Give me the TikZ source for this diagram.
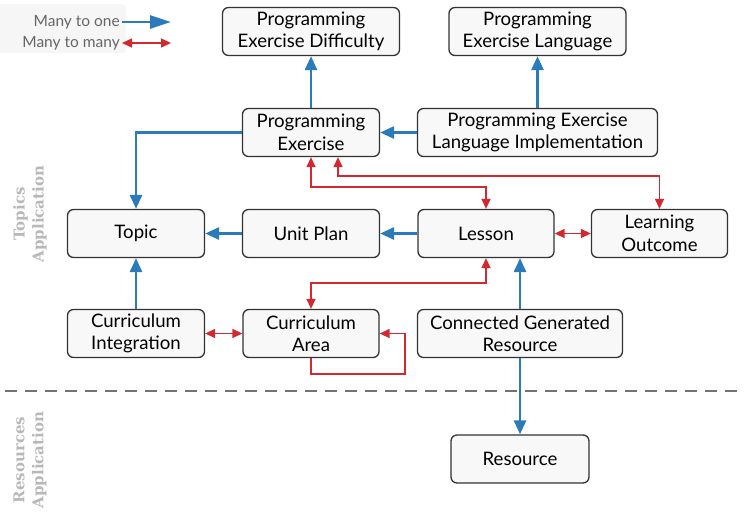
\documentclass[tikz,border=0pt]{standalone}
\usepackage{fontspec}
\setmainfont{Lato}
\newfontfamily\appfont{DejaVu Serif}
\usepackage{tikz}
\usetikzlibrary{arrows.meta}
\definecolor{onecol}{HTML}{2B7BBA}
\definecolor{manycol}{HTML}{D3282F}
\definecolor{boxfill}{HTML}{F8F8F8}
\definecolor{boxline}{HTML}{333333}
\definecolor{legendbg}{HTML}{F6F6F6}
\tikzstyle{model}=[draw=boxline,fill=boxfill,rounded corners=6pt,line width=1.3pt,minimum height=48pt,align=center,inner sep=2pt,font=\fontsize{18.6}{22.5}\selectfont]
\tikzstyle{one} = [draw=onecol,line width=2.8pt,-{Triangle[length=14pt,width=12pt]}]
\tikzstyle{many} = [draw=manycol,line width=1.4pt,{Triangle[length=10pt,width=9pt]}-{Triangle[length=10pt,width=9pt]}]
\tikzstyle{legend} = [anchor=east,inner sep=2pt,text=black!60,font=\fontsize{15.5}{18}\selectfont]
\tikzstyle{app} = [rotate=90,align=center,text=black!28,font=\appfont\bfseries\fontsize{15}{19}\selectfont]

\begin{document}
\begin{tikzpicture}[x=1pt,y=-1pt]
    \useasboundingbox (0,0) rectangle (746,528);
    	% legend
    	\fill[legendbg,rounded corners=4pt] (-4,4) rectangle (126,53);
    	\node[legend] (onelabel) at (122,22) {Many to one};
    	\node[legend] (manylabel) at (122,43) {Many to many};
    	\coordinate (oneend) at (171,22);
    	\coordinate (manyend) at (171,43);
    	\path[one,-{Triangle[length=21pt,width=13pt]}] (onelabel) -- (oneend);
    	\path[many] (manylabel) -- (manyend);
    	% application labels and divider
    	\node[app] (topicsapp) at (30,214) {Topics\\Application};
    	\node[app] (resourcesapp) at (30,460) {Resources\\Application};
    	\coordinate (divleft) at (5,391);
    	\coordinate (divright) at (741,391);
    	\draw[black!55,line width=1.6pt,dash pattern=on 12pt off 8pt] (divleft) -- (divright);
    	% draw the models
	    \foreach \pos/\name/\boxw/\txt in {
	        {(311,31.5)/ped/177/{Programming\\Exercise Difficulty}},
	        {(537.5,31.5)/pel/177/{Programming\\Exercise Language}},
	        {(311,132.5)/pe/137/{Programming\\Exercise}},
	        {(537.5,132.5)/peli/240/{Programming Exercise\\Language Implementation}},
	        {(136,233.5)/topic/137/{Topic}},
	        {(311,233.5)/unitplan/137/{Unit Plan}},
	        {(486,233.5)/lesson/136/{Lesson}},
	        {(659.5,233.5)/outcome/136/{Learning\\Outcome}},
	        {(136,333.5)/integration/137/{Curriculum\\Integration}},
	        {(311,333.5)/area/136/{Curriculum\\Area}},
	        {(520,333.5)/cgr/205/{Connected Generated\\Resource}},
	        {(520,459)/resource/138/{Resource}}}
        \node[model,minimum width=\boxw pt] (\name) at \pos {\txt};
    	% many to one
    	\foreach \source/\dest in {pe/ped, peli/pel, peli/pe, unitplan/topic,
    	                           lesson/unitplan, integration/topic, cgr/resource}
        	\path[one] (\source) -- (\dest);
        \path[one] (pe.west) -| (topic.north);
        \path[one] (cgr.north) -- (cgr.north |- lesson.south);
    	% many to many
    	\foreach \source/\dest in {lesson/outcome, integration/area}
        	\path[many] (\source) -- (\dest);
        \path[many] (pe.south) -- ++(0,30) -| (lesson.north);
        \path[many] ([xshift=27pt]pe.south) -- ++(0,19) -| (outcome.north);
        \path[many] (lesson.south) -- ++(0,25) -| (area.north);
        \path[many,-{Triangle[length=10pt,width=9pt]}] (area.south) -- ++(0,16) -- ++(94,0) |- (area.east);
\end{tikzpicture}
\end{document}
